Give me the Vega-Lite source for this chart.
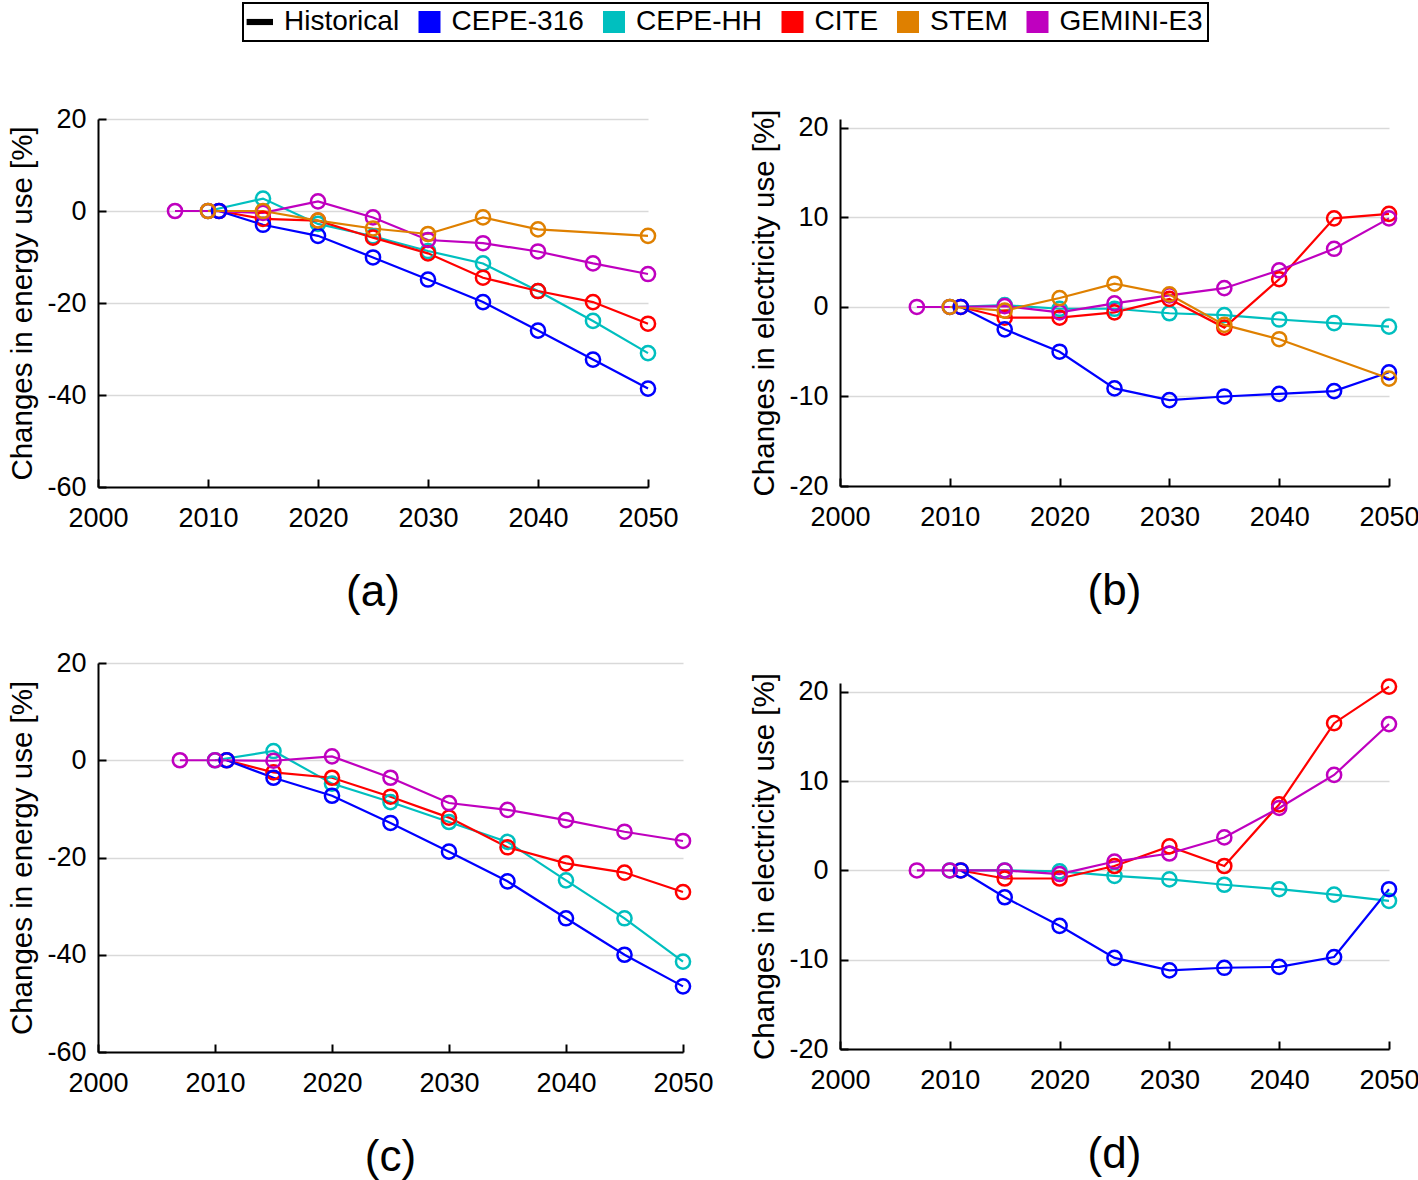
{
  "$schema": "https://vega.github.io/schema/vega-lite/v6.json",
  "background": "white",
  "padding": {"left": 7, "top": 2, "right": 5, "bottom": 5},
  "datasets": {
    "d": [
      {"p":"a","m":"CEPE-HH","x":2010,"y":0},{"p":"a","m":"CEPE-HH","x":2015,"y":2.7},{"p":"a","m":"CEPE-HH","x":2020,"y":-2.8},{"p":"a","m":"CEPE-HH","x":2025,"y":-5.5},{"p":"a","m":"CEPE-HH","x":2030,"y":-8.7},{"p":"a","m":"CEPE-HH","x":2035,"y":-11.4},{"p":"a","m":"CEPE-HH","x":2040,"y":-17.4},{"p":"a","m":"CEPE-HH","x":2045,"y":-23.9},{"p":"a","m":"CEPE-HH","x":2050,"y":-30.9},
      {"p":"a","m":"CITE","x":2011,"y":0},{"p":"a","m":"CITE","x":2015,"y":-1.7},{"p":"a","m":"CITE","x":2020,"y":-2.1},{"p":"a","m":"CITE","x":2025,"y":-5.8},{"p":"a","m":"CITE","x":2030,"y":-9.2},{"p":"a","m":"CITE","x":2035,"y":-14.5},{"p":"a","m":"CITE","x":2040,"y":-17.4},{"p":"a","m":"CITE","x":2045,"y":-19.8},{"p":"a","m":"CITE","x":2050,"y":-24.5},
      {"p":"a","m":"CEPE-316","x":2011,"y":0},{"p":"a","m":"CEPE-316","x":2015,"y":-3.0},{"p":"a","m":"CEPE-316","x":2020,"y":-5.4},{"p":"a","m":"CEPE-316","x":2025,"y":-10.1},{"p":"a","m":"CEPE-316","x":2030,"y":-14.9},{"p":"a","m":"CEPE-316","x":2035,"y":-19.8},{"p":"a","m":"CEPE-316","x":2040,"y":-26.0},{"p":"a","m":"CEPE-316","x":2045,"y":-32.3},{"p":"a","m":"CEPE-316","x":2050,"y":-38.6},
      {"p":"a","m":"GEMINI-E3","x":2007,"y":0},{"p":"a","m":"GEMINI-E3","x":2010,"y":0},{"p":"a","m":"GEMINI-E3","x":2015,"y":-0.4},{"p":"a","m":"GEMINI-E3","x":2020,"y":2.1},{"p":"a","m":"GEMINI-E3","x":2025,"y":-1.4},{"p":"a","m":"GEMINI-E3","x":2030,"y":-6.3},{"p":"a","m":"GEMINI-E3","x":2035,"y":-7.0},{"p":"a","m":"GEMINI-E3","x":2040,"y":-8.8},{"p":"a","m":"GEMINI-E3","x":2045,"y":-11.4},{"p":"a","m":"GEMINI-E3","x":2050,"y":-13.7},
      {"p":"a","m":"STEM","x":2010,"y":0},{"p":"a","m":"STEM","x":2015,"y":0},{"p":"a","m":"STEM","x":2020,"y":-2.1},{"p":"a","m":"STEM","x":2025,"y":-3.8},{"p":"a","m":"STEM","x":2030,"y":-5.0},{"p":"a","m":"STEM","x":2035,"y":-1.4},{"p":"a","m":"STEM","x":2040,"y":-4.0},{"p":"a","m":"STEM","x":2050,"y":-5.4},

      {"p":"b","m":"CEPE-HH","x":2010,"y":0},{"p":"b","m":"CEPE-HH","x":2015,"y":0.2},{"p":"b","m":"CEPE-HH","x":2020,"y":-0.2},{"p":"b","m":"CEPE-HH","x":2025,"y":-0.2},{"p":"b","m":"CEPE-HH","x":2030,"y":-0.7},{"p":"b","m":"CEPE-HH","x":2035,"y":-0.9},{"p":"b","m":"CEPE-HH","x":2040,"y":-1.4},{"p":"b","m":"CEPE-HH","x":2045,"y":-1.8},{"p":"b","m":"CEPE-HH","x":2050,"y":-2.2},
      {"p":"b","m":"CITE","x":2011,"y":0},{"p":"b","m":"CITE","x":2015,"y":-1.2},{"p":"b","m":"CITE","x":2020,"y":-1.2},{"p":"b","m":"CITE","x":2025,"y":-0.6},{"p":"b","m":"CITE","x":2030,"y":0.9},{"p":"b","m":"CITE","x":2035,"y":-2.3},{"p":"b","m":"CITE","x":2040,"y":3.1},{"p":"b","m":"CITE","x":2045,"y":9.9},{"p":"b","m":"CITE","x":2050,"y":10.4},
      {"p":"b","m":"CEPE-316","x":2011,"y":0},{"p":"b","m":"CEPE-316","x":2015,"y":-2.5},{"p":"b","m":"CEPE-316","x":2020,"y":-5.0},{"p":"b","m":"CEPE-316","x":2025,"y":-9.1},{"p":"b","m":"CEPE-316","x":2030,"y":-10.4},{"p":"b","m":"CEPE-316","x":2035,"y":-10.0},{"p":"b","m":"CEPE-316","x":2040,"y":-9.7},{"p":"b","m":"CEPE-316","x":2045,"y":-9.4},{"p":"b","m":"CEPE-316","x":2050,"y":-7.3},
      {"p":"b","m":"GEMINI-E3","x":2007,"y":0},{"p":"b","m":"GEMINI-E3","x":2010,"y":0},{"p":"b","m":"GEMINI-E3","x":2015,"y":0.1},{"p":"b","m":"GEMINI-E3","x":2020,"y":-0.6},{"p":"b","m":"GEMINI-E3","x":2025,"y":0.4},{"p":"b","m":"GEMINI-E3","x":2030,"y":1.3},{"p":"b","m":"GEMINI-E3","x":2035,"y":2.1},{"p":"b","m":"GEMINI-E3","x":2040,"y":4.1},{"p":"b","m":"GEMINI-E3","x":2045,"y":6.5},{"p":"b","m":"GEMINI-E3","x":2050,"y":9.9},
      {"p":"b","m":"STEM","x":2010,"y":0},{"p":"b","m":"STEM","x":2015,"y":-0.4},{"p":"b","m":"STEM","x":2020,"y":1.0},{"p":"b","m":"STEM","x":2025,"y":2.6},{"p":"b","m":"STEM","x":2030,"y":1.4},{"p":"b","m":"STEM","x":2035,"y":-2.0},{"p":"b","m":"STEM","x":2040,"y":-3.6},{"p":"b","m":"STEM","x":2050,"y":-8.0},

      {"p":"c","m":"CEPE-HH","x":2010,"y":0},{"p":"c","m":"CEPE-HH","x":2015,"y":1.9},{"p":"c","m":"CEPE-HH","x":2020,"y":-4.8},{"p":"c","m":"CEPE-HH","x":2025,"y":-8.6},{"p":"c","m":"CEPE-HH","x":2030,"y":-12.7},{"p":"c","m":"CEPE-HH","x":2035,"y":-16.8},{"p":"c","m":"CEPE-HH","x":2040,"y":-24.7},{"p":"c","m":"CEPE-HH","x":2045,"y":-32.5},{"p":"c","m":"CEPE-HH","x":2050,"y":-41.4},
      {"p":"c","m":"CITE","x":2011,"y":0},{"p":"c","m":"CITE","x":2015,"y":-2.5},{"p":"c","m":"CITE","x":2020,"y":-3.6},{"p":"c","m":"CITE","x":2025,"y":-7.5},{"p":"c","m":"CITE","x":2030,"y":-11.8},{"p":"c","m":"CITE","x":2035,"y":-17.9},{"p":"c","m":"CITE","x":2040,"y":-21.2},{"p":"c","m":"CITE","x":2045,"y":-23.1},{"p":"c","m":"CITE","x":2050,"y":-27.1},
      {"p":"c","m":"CEPE-316","x":2011,"y":0},{"p":"c","m":"CEPE-316","x":2015,"y":-3.6},{"p":"c","m":"CEPE-316","x":2020,"y":-7.3},{"p":"c","m":"CEPE-316","x":2025,"y":-12.9},{"p":"c","m":"CEPE-316","x":2030,"y":-18.8},{"p":"c","m":"CEPE-316","x":2035,"y":-24.9},{"p":"c","m":"CEPE-316","x":2040,"y":-32.5},{"p":"c","m":"CEPE-316","x":2045,"y":-40.0},{"p":"c","m":"CEPE-316","x":2050,"y":-46.5},
      {"p":"c","m":"GEMINI-E3","x":2007,"y":0},{"p":"c","m":"GEMINI-E3","x":2010,"y":0},{"p":"c","m":"GEMINI-E3","x":2015,"y":-0.1},{"p":"c","m":"GEMINI-E3","x":2020,"y":0.8},{"p":"c","m":"GEMINI-E3","x":2025,"y":-3.6},{"p":"c","m":"GEMINI-E3","x":2030,"y":-8.8},{"p":"c","m":"GEMINI-E3","x":2035,"y":-10.2},{"p":"c","m":"GEMINI-E3","x":2040,"y":-12.3},{"p":"c","m":"GEMINI-E3","x":2045,"y":-14.7},{"p":"c","m":"GEMINI-E3","x":2050,"y":-16.6},

      {"p":"d","m":"CEPE-HH","x":2010,"y":0},{"p":"d","m":"CEPE-HH","x":2015,"y":0},{"p":"d","m":"CEPE-HH","x":2020,"y":-0.1},{"p":"d","m":"CEPE-HH","x":2025,"y":-0.6},{"p":"d","m":"CEPE-HH","x":2030,"y":-1.0},{"p":"d","m":"CEPE-HH","x":2035,"y":-1.6},{"p":"d","m":"CEPE-HH","x":2040,"y":-2.1},{"p":"d","m":"CEPE-HH","x":2045,"y":-2.7},{"p":"d","m":"CEPE-HH","x":2050,"y":-3.4},
      {"p":"d","m":"CITE","x":2011,"y":0},{"p":"d","m":"CITE","x":2015,"y":-0.9},{"p":"d","m":"CITE","x":2020,"y":-0.9},{"p":"d","m":"CITE","x":2025,"y":0.5},{"p":"d","m":"CITE","x":2030,"y":2.7},{"p":"d","m":"CITE","x":2035,"y":0.5},{"p":"d","m":"CITE","x":2040,"y":7.4},{"p":"d","m":"CITE","x":2045,"y":16.5},{"p":"d","m":"CITE","x":2050,"y":20.6},
      {"p":"d","m":"CEPE-316","x":2011,"y":0},{"p":"d","m":"CEPE-316","x":2015,"y":-3.0},{"p":"d","m":"CEPE-316","x":2020,"y":-6.2},{"p":"d","m":"CEPE-316","x":2025,"y":-9.8},{"p":"d","m":"CEPE-316","x":2030,"y":-11.2},{"p":"d","m":"CEPE-316","x":2035,"y":-10.9},{"p":"d","m":"CEPE-316","x":2040,"y":-10.8},{"p":"d","m":"CEPE-316","x":2045,"y":-9.7},{"p":"d","m":"CEPE-316","x":2050,"y":-2.1},
      {"p":"d","m":"GEMINI-E3","x":2007,"y":0},{"p":"d","m":"GEMINI-E3","x":2010,"y":0},{"p":"d","m":"GEMINI-E3","x":2015,"y":0},{"p":"d","m":"GEMINI-E3","x":2020,"y":-0.4},{"p":"d","m":"GEMINI-E3","x":2025,"y":1.0},{"p":"d","m":"GEMINI-E3","x":2030,"y":1.9},{"p":"d","m":"GEMINI-E3","x":2035,"y":3.7},{"p":"d","m":"GEMINI-E3","x":2040,"y":7.0},{"p":"d","m":"GEMINI-E3","x":2045,"y":10.7},{"p":"d","m":"GEMINI-E3","x":2050,"y":16.4}
    ]
  },
  "config": {
    "font": "Liberation Sans",
    "view": {"stroke": null},
    "axis": {
      "labelFont": "Liberation Sans", "labelFontSize": 27, "labelColor": "black",
      "titleFont": "Liberation Sans", "titleFontSize": 29.5, "titleFontWeight": "normal", "titleColor": "black",
      "domainColor": "black", "domainWidth": 2, "tickColor": "black", "tickWidth": 2, "tickSize": -8,
      "gridColor": "#d9d9d9", "gridWidth": 1.5, "labelFlush": false, "labelOverlap": false
    },
    "axisX": {"labelPadding": 26, "grid": false},
    "axisY": {"labelPadding": 20, "titlePadding": 9},
    "title": {"font": "Liberation Sans", "fontSize": 44, "fontWeight": "normal", "color": "black", "offset": 40},
    "legend": {
      "orient": "none", "legendX": 145, "legendY": -116, "direction": "horizontal", "columns": 6,
      "labelFont": "Liberation Sans", "labelFontSize": 28, "labelColor": "black", "labelOffset": 8,
      "symbolType": "square", "symbolSize": 484, "symbolStrokeWidth": 0, "columnPadding": 15.5,
      "strokeColor": "black", "strokeWidth": 2, "fillColor": "white", "padding": 5, "labelLimit": 400
    }
  },
  "resolve": {"scale": {"color": "shared"}, "legend": {"color": "shared"}},
  "spacing": 35,
  "hconcat": [
    {
      "bounds": "flush",
      "spacing": 176,
      "resolve": {"scale": {"color": "shared"}, "legend": {"color": "shared"}},
      "vconcat": [
        {
          "width": 550, "height": 368,
          "data": {"name": "d"},
          "transform": [{"filter": "datum.p === 'a'"}],
          "title": {"text": "(a)", "orient": "bottom"},
          "encoding": {
            "x": {"field": "x", "type": "quantitative", "scale": {"domain": [2000, 2050], "nice": false}, "axis": {"values": [2000, 2010, 2020, 2030, 2040, 2050], "format": "d", "title": null}},
            "y": {"field": "y", "type": "quantitative", "scale": {"domain": [-60, 20], "nice": false}, "axis": {"values": [-60, -40, -20, 0, 20], "labelExpr": "'' + datum.value", "title": "Changes in energy use [%]"}},
            "color": {"field": "m", "type": "nominal", "title": null,
              "scale": {"domain": ["Historical", "CEPE-316", "CEPE-HH", "CITE", "STEM", "GEMINI-E3"], "range": ["#000000", "#0000FF", "#00BFBF", "#FF0000", "#DF8000", "#BF00BF"]},
              "legend": {"encode": {"symbols": {"update": {"fill": {"scale": "color", "field": "value"}, "stroke": {"value": "transparent"}, "opacity": {"value": 1}, "shape": {"signal": "datum.value === 'Historical' ? 'M-1.4,-0.28H1V0.28H-1.4Z' : 'square'"}}}}}}
          },
          "layer": [
            {"mark": {"type": "line", "strokeWidth": 2.2}},
            {"mark": {"type": "point", "filled": false, "size": 200, "strokeWidth": 2.5, "opacity": 1}}
          ]
        },
        {
          "width": 585, "height": 389,
          "data": {"name": "d"},
          "transform": [{"filter": "datum.p === 'c'"}],
          "title": {"text": "(c)", "orient": "bottom"},
          "encoding": {
            "x": {"field": "x", "type": "quantitative", "scale": {"domain": [2000, 2050], "nice": false}, "axis": {"values": [2000, 2010, 2020, 2030, 2040, 2050], "format": "d", "title": null}},
            "y": {"field": "y", "type": "quantitative", "scale": {"domain": [-60, 20], "nice": false}, "axis": {"values": [-60, -40, -20, 0, 20], "labelExpr": "'' + datum.value", "title": "Changes in energy use [%]"}},
            "color": {"field": "m", "type": "nominal", "title": null,
              "scale": {"domain": ["Historical", "CEPE-316", "CEPE-HH", "CITE", "STEM", "GEMINI-E3"], "range": ["#000000", "#0000FF", "#00BFBF", "#FF0000", "#DF8000", "#BF00BF"]}}
          },
          "layer": [
            {"mark": {"type": "line", "strokeWidth": 2.2}},
            {"mark": {"type": "point", "filled": false, "size": 200, "strokeWidth": 2.5, "opacity": 1}}
          ]
        }
      ]
    },
    {
      "bounds": "flush",
      "spacing": 197,
      "resolve": {"scale": {"color": "shared"}, "legend": {"color": "shared"}},
      "vconcat": [
        {
          "width": 549, "height": 367,
          "data": {"name": "d"},
          "transform": [{"filter": "datum.p === 'b'"}],
          "title": {"text": "(b)", "orient": "bottom"},
          "encoding": {
            "x": {"field": "x", "type": "quantitative", "scale": {"domain": [2000, 2050], "nice": false}, "axis": {"values": [2000, 2010, 2020, 2030, 2040, 2050], "format": "d", "title": null}},
            "y": {"field": "y", "type": "quantitative", "scale": {"domain": [-20, 21], "nice": false}, "axis": {"values": [-20, -10, 0, 10, 20], "labelExpr": "'' + datum.value", "title": "Changes in electricity use [%]"}},
            "color": {"field": "m", "type": "nominal", "title": null,
              "scale": {"domain": ["Historical", "CEPE-316", "CEPE-HH", "CITE", "STEM", "GEMINI-E3"], "range": ["#000000", "#0000FF", "#00BFBF", "#FF0000", "#DF8000", "#BF00BF"]}}
          },
          "layer": [
            {"mark": {"type": "line", "strokeWidth": 2.2}},
            {"mark": {"type": "point", "filled": false, "size": 200, "strokeWidth": 2.5, "opacity": 1}}
          ]
        },
        {
          "width": 549, "height": 366,
          "data": {"name": "d"},
          "transform": [{"filter": "datum.p === 'd'"}],
          "title": {"text": "(d)", "orient": "bottom"},
          "encoding": {
            "x": {"field": "x", "type": "quantitative", "scale": {"domain": [2000, 2050], "nice": false}, "axis": {"values": [2000, 2010, 2020, 2030, 2040, 2050], "format": "d", "title": null}},
            "y": {"field": "y", "type": "quantitative", "scale": {"domain": [-20, 21], "nice": false}, "axis": {"values": [-20, -10, 0, 10, 20], "labelExpr": "'' + datum.value", "title": "Changes in electricity use [%]"}},
            "color": {"field": "m", "type": "nominal", "title": null,
              "scale": {"domain": ["Historical", "CEPE-316", "CEPE-HH", "CITE", "STEM", "GEMINI-E3"], "range": ["#000000", "#0000FF", "#00BFBF", "#FF0000", "#DF8000", "#BF00BF"]}}
          },
          "layer": [
            {"mark": {"type": "line", "strokeWidth": 2.2}},
            {"mark": {"type": "point", "filled": false, "size": 200, "strokeWidth": 2.5, "opacity": 1}}
          ]
        }
      ]
    }
  ]
}
